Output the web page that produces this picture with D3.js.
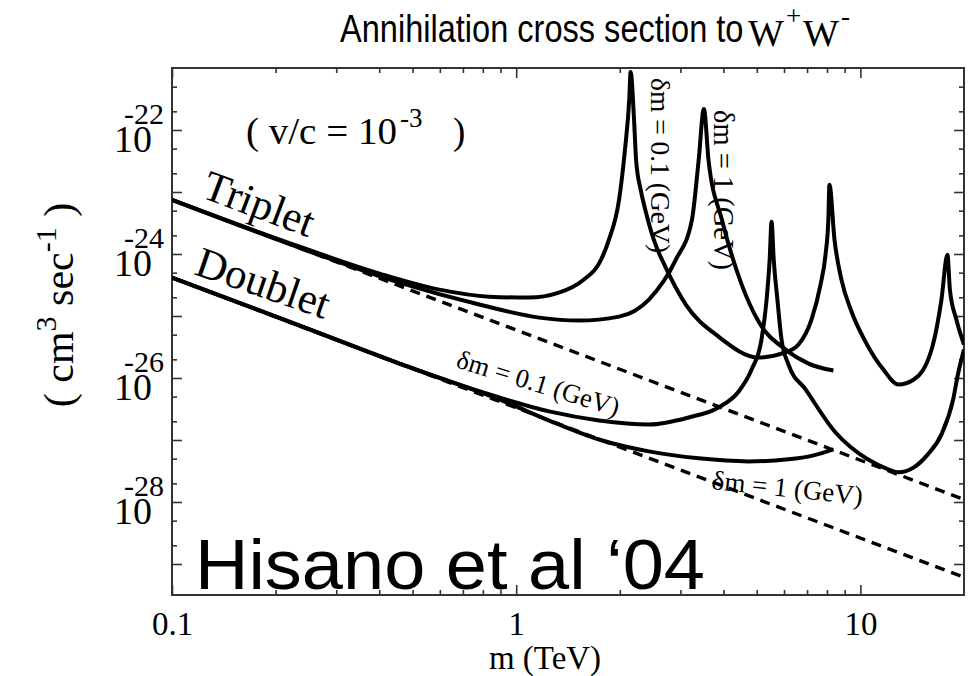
<!DOCTYPE html>
<html>
<head>
<meta charset="utf-8">
<script src="https://cdn.jsdelivr.net/npm/d3@7"></script>
<style>
  body { margin: 0; background: #fff; }
  svg { display: block; }
</style>
</head>
<body>
<svg id="chart" width="974" height="676"></svg>
<script>
// σv for annihilation to W+W− as a function of the dark-matter mass (v/c = 1e-3)

// axis tick values
const massTicks = [0.1, 1, 10];
const massMinorTicks = [0.2, 0.3, 0.4, 0.5, 0.6, 0.7, 0.8, 0.9, 2, 3, 4, 5, 6, 7, 8, 9];
const sigmaTicks = [1e-22, 1e-24, 1e-26, 1e-28];
const sigmaTickExponents = ["-22", "-24", "-26", "-28"];
const sigmaDecades = [1e-22, 1e-23, 1e-24, 1e-25, 1e-26, 1e-27, 1e-28, 1e-29];
const sigmaMinorTicks = [5e-22, 2e-22, 5e-23, 2e-23, 5e-24, 2e-24, 5e-25, 2e-25,
                         5e-26, 2e-26, 5e-27, 2e-27, 5e-28, 2e-28, 5e-29, 2e-29];

// perturbative cross sections (dashed)
const tripletTreeMass = [0.1, 20];
const tripletTreeSigma = [7.48e-24, 1.10e-28];
const doubletTreeMass = [0.1, 20];
const doubletTreeSigma = [4.15e-25, 6.12e-30];

// triplet, δm = 0.1 GeV
const tripletDm01Mass = [0.1, 0.235, 0.401, 0.598, 0.835, 1.09, 1.33, 1.57, 1.74, 1.86,
  1.99, 2.07, 2.13, 2.15, 2.20, 2.23, 2.30, 2.38, 2.51, 2.72,
  3.11, 3.87, 5.06, 6.06, 6.61, 7.21, 7.66, 7.92, 8.07, 8.13,
  8.41, 8.81, 9.42, 10.34, 11.66, 12.9, 14.3, 16.1, 17.2, 17.9,
  18.2, 19.0, 20];
const tripletDm01Sigma = [7.48e-24, 1.31e-24, 4.82e-25, 2.66e-25, 2.05e-25, 1.98e-25, 2.38e-25, 3.85e-25, 6.98e-25, 1.70e-24,
  7.48e-24, 4.79e-23, 3.05e-22, 8.63e-22, 1.46e-22, 3.30e-23, 1.08e-23, 4.80e-24, 1.70e-24, 6.01e-25,
  1.53e-25, 4.66e-26, 2.14e-26, 2.58e-26, 3.46e-26, 8.75e-26, 3.21e-25, 9.75e-25, 3.56e-24, 1.31e-23,
  1.70e-24, 3.85e-25, 1.18e-25, 3.87e-26, 1.37e-26, 7.85e-27, 9.46e-27, 2.88e-26, 1.84e-25, 9.75e-25,
  2.66e-25, 8.75e-26, 3.46e-26];

// triplet, δm = 1 GeV
const tripletDm1Mass = [0.1, 0.235, 0.458, 0.781, 1.166, 1.52, 1.99, 2.43, 2.91, 3.24,
  3.39, 3.51, 3.62, 3.96, 4.52, 5.06, 6.06, 7.07, 8.35];
const tripletDm1Sigma = [7.48e-24, 1.26e-24, 3.45e-25, 1.53e-25, 9.42e-26, 8.43e-26, 9.77e-26, 1.84e-25, 8.09e-25, 3.56e-24,
  3.30e-23, 2.19e-22, 3.30e-23, 3.56e-24, 3.21e-25, 8.13e-26, 2.88e-26, 1.71e-26, 1.32e-26];

// doublet, δm = 0.1 GeV
const doubletDm01Mass = [0.1, 0.235, 0.458, 0.639, 0.893, 1.246, 1.74, 2.43, 3.17, 3.87,
  4.43, 4.83, 5.16, 5.34, 5.45, 5.52, 5.60, 5.74, 5.90, 6.18,
  6.93, 8.47, 10.5, 12.05, 12.9, 14.3, 15.7, 17.2, 18.6, 19.2, 20];
const doubletDm01Sigma = [4.15e-25, 7.00e-26, 1.71e-26, 8.79e-27, 4.85e-27, 2.89e-27, 2.07e-27, 1.78e-27, 2.31e-27, 3.35e-27,
  6.07e-27, 1.37e-26, 4.17e-26, 1.84e-25, 8.09e-25, 3.31e-24, 8.09e-25, 1.84e-25, 4.17e-26, 1.65e-26,
  6.53e-27, 1.32e-27, 4.88e-28, 3.37e-28, 3.01e-28, 3.62e-28, 5.86e-28, 1.23e-27, 4.51e-27, 1.14e-26, 2.88e-26];

// doublet, δm = 1 GeV
const doubletDm1Mass = [0.1, 0.235, 0.458, 0.893, 1.33, 1.74, 2.43, 3.39, 4.73, 6.18, 7.31, 8.35];
const doubletDm1Sigma = [4.15e-25, 7.00e-26, 1.71e-26, 4.51e-27, 1.78e-27, 1.02e-27, 6.55e-28, 5.06e-28, 4.52e-28, 4.88e-28, 5.65e-28, 7.06e-28];

const zip = (ms, ss) => ms.map((m, i) => [m, ss[i]]);

const svg = d3.select("#chart");
const plot = { left: 172, right: 964, top: 68, bottom: 595 };

const x = d3.scaleLog().domain([0.1, 20]).range([plot.left, plot.right]);
const y = d3.scaleLog().domain([Math.pow(10, -29.5), 1e-21]).range([plot.bottom, plot.top]);

const serif = "'Liberation Serif', 'Times New Roman', serif";
const sans = "'Liberation Sans', Arial, sans-serif";

svg.append("defs").append("clipPath").attr("id", "frame")
  .append("rect")
  .attr("x", plot.left).attr("y", plot.top)
  .attr("width", plot.right - plot.left).attr("height", plot.bottom - plot.top);

// ---- axes (ticks point inward on all four sides)
function styleAxis(g) {
  g.select(".domain").remove();
  g.selectAll(".tick line").attr("stroke", "#333").attr("stroke-width", 1.6);
}
const noLabel = () => "";

svg.append("g").attr("transform", `translate(0,${plot.bottom})`)
  .call(d3.axisBottom(x).tickValues(massMinorTicks).tickSize(-5).tickFormat(noLabel)).call(styleAxis);
svg.append("g").attr("transform", `translate(0,${plot.bottom})`)
  .call(d3.axisBottom(x).tickValues(massTicks).tickSize(-10).tickPadding(17)
    .tickFormat(d => d === 0.1 ? "0.1" : String(d)))
  .call(styleAxis)
  .call(g => g.selectAll("text").attr("font-family", serif).attr("font-size", 33).attr("fill", "#000"));
svg.append("g").attr("transform", `translate(0,${plot.top})`)
  .call(d3.axisTop(x).tickValues(massMinorTicks).tickSize(-5).tickFormat(noLabel)).call(styleAxis);
svg.append("g").attr("transform", `translate(0,${plot.top})`)
  .call(d3.axisTop(x).tickValues(massTicks).tickSize(-10).tickFormat(noLabel)).call(styleAxis);

svg.append("g").attr("transform", `translate(${plot.left},0)`)
  .call(d3.axisLeft(y).tickValues(sigmaMinorTicks).tickSize(-5).tickFormat(noLabel)).call(styleAxis);
svg.append("g").attr("transform", `translate(${plot.left},0)`)
  .call(d3.axisLeft(y).tickValues(sigmaDecades).tickSize(-10).tickFormat(noLabel)).call(styleAxis);
svg.append("g").attr("transform", `translate(${plot.right},0)`)
  .call(d3.axisRight(y).tickValues(sigmaMinorTicks).tickSize(-5).tickFormat(noLabel)).call(styleAxis);
svg.append("g").attr("transform", `translate(${plot.right},0)`)
  .call(d3.axisRight(y).tickValues(sigmaDecades).tickSize(-10).tickFormat(noLabel)).call(styleAxis);

// y tick labels: 10 with a raised exponent tucked over the 0
const yLab = svg.append("g").attr("font-family", serif).attr("fill", "#000");
sigmaTicks.forEach((v, i) => {
  const t = yLab.append("text").attr("x", 114).attr("y", y(v) + 22).attr("font-size", 38);
  t.append("tspan").text("10");
  t.append("tspan").attr("dx", -28).attr("dy", -28).attr("font-size", 30).text(sigmaTickExponents[i]);
});

// frame
svg.append("rect")
  .attr("x", plot.left).attr("y", plot.top)
  .attr("width", plot.right - plot.left).attr("height", plot.bottom - plot.top)
  .attr("fill", "none").attr("stroke", "#333").attr("stroke-width", 2);

// ---- curves
const line = d3.line().x(d => x(d[0])).y(d => y(d[1])).curve(d3.curveMonotoneX);
const curves = svg.append("g").attr("clip-path", "url(#frame)").attr("fill", "none").attr("stroke", "#000");

[zip(tripletTreeMass, tripletTreeSigma), zip(doubletTreeMass, doubletTreeSigma)].forEach(d => {
  curves.append("path").attr("d", line(d))
    .attr("stroke-width", 3.4).attr("stroke-dasharray", "10,7");
});
[zip(tripletDm01Mass, tripletDm01Sigma), zip(tripletDm1Mass, tripletDm1Sigma),
 zip(doubletDm01Mass, doubletDm01Sigma), zip(doubletDm1Mass, doubletDm1Sigma)].forEach(d => {
  curves.append("path").attr("d", line(d))
    .attr("stroke-width", 4).attr("stroke-linejoin", "round");
});

// ---- text annotations
const ann = svg.append("g").attr("font-family", serif).attr("fill", "#000");

ann.append("text").attr("transform", "translate(200,197) rotate(20.5)")
  .attr("font-size", 43).text("Triplet");
ann.append("text").attr("transform", "translate(193,274) rotate(19)")
  .attr("font-size", 43).text("Doublet");

ann.append("text").attr("x", 246).attr("y", 144).attr("font-size", 37)
  .attr("textLength", 151).attr("lengthAdjust", "spacingAndGlyphs").text("( v/c = 10");
ann.append("text").attr("x", 400).attr("y", 127).attr("font-size", 27).text("-3");
ann.append("text").attr("x", 453).attr("y", 144).attr("font-size", 37).text(")");

ann.append("text").attr("transform", "translate(455,367) rotate(17)")
  .attr("font-size", 26.5).text("δm = 0.1 (GeV)");
ann.append("text").attr("transform", "translate(711,489) rotate(6)")
  .attr("font-size", 27).text("δm = 1 (GeV)");
ann.append("text").attr("transform", "translate(651,78) rotate(90)")
  .attr("font-size", 27.5).text("δm = 0.1 (GeV)");
ann.append("text").attr("transform", "translate(714,110) rotate(90)")
  .attr("font-size", 28.5).text("δm = 1 (GeV)");

// axis titles
const yTitle = svg.append("text").attr("font-family", serif).attr("font-size", 42)
  .attr("text-anchor", "middle").attr("transform", "translate(73,305) rotate(-90)");
yTitle.append("tspan").text("( cm");
yTitle.append("tspan").attr("dy", -17).attr("font-size", 30).text("3");
yTitle.append("tspan").attr("dy", 17).text(" sec");
yTitle.append("tspan").attr("dy", -17).attr("font-size", 30).text("-1");
yTitle.append("tspan").attr("dy", 17).text(" )");

svg.append("text").attr("font-family", serif).attr("font-size", 33)
  .attr("x", 545).attr("y", 669).attr("text-anchor", "middle").text("m (TeV)");

// chart title: condensed sans-serif words followed by serif W⁺W⁻
const titleG = svg.append("g").attr("fill", "#000");
titleG.append("text").attr("transform", "translate(340,42) scale(0.835,1)")
  .attr("font-family", sans).attr("font-size", 39)
  .text("Annihilation cross section to");
titleG.append("text").attr("x", 748).attr("y", 46)
  .attr("font-family", serif).attr("font-size", 38).text("W");
titleG.append("text").attr("x", 786).attr("y", 25)
  .attr("font-family", serif).attr("font-size", 27).text("+");
titleG.append("text").attr("x", 803).attr("y", 46)
  .attr("font-family", serif).attr("font-size", 38).text("W");
titleG.append("text").attr("x", 841).attr("y", 25)
  .attr("font-family", serif).attr("font-size", 27).text("-");

// citation
svg.append("text").attr("x", 195).attr("y", 589)
  .attr("font-family", sans).attr("font-size", 70).attr("fill", "#000")
  .attr("textLength", 510).attr("lengthAdjust", "spacingAndGlyphs")
  .text("Hisano et al \u201804");
</script>
</body>
</html>
